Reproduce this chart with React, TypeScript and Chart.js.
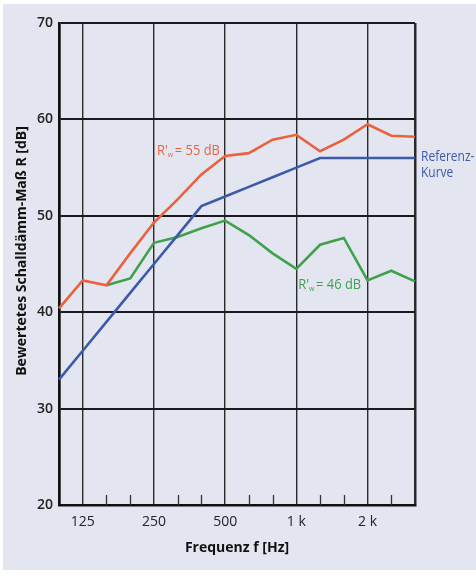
import React, { useEffect, useRef } from 'react';
import { Chart, registerables } from 'chart.js';

Chart.register(...registerables);

// Third-octave band centre frequencies (Hz)
const frequencies = ['100', '125', '160', '200', '250', '315', '400', '500', '630', '800', '1000', '1250', '1600', '2000', '2500', '3150'];
// Labelled octave bands (index -> label)
const majorTickIndices = [1, 4, 7, 10, 13];
const majorTickLabels = ['125', '250', '500', '1 k', '2 k'];
// Unlabelled third-octave bands with short tick marks
const minorTickIndices = [2, 3, 5, 6, 8, 9, 11, 12, 14];

// Measured curve, R'w = 55 dB
const curve55 = [40.4, 43.3, 42.8, 46.1, 49.3, 51.7, 54.3, 56.2, 56.5, 57.9, 58.4, 56.7, 57.9, 59.5, 58.3, 58.2];
// Measured curve, R'w = 46 dB
const curve46 = [null, null, 42.8, 43.5, 47.2, 47.8, 48.7, 49.5, 48.0, 46.1, 44.5, 47.0, 47.7, 43.3, 44.3, 43.2];
// Reference curve (ISO 717-1)
const referenceCurve = [33, 36, 39, 42, 45, 48, 51, 52, 53, 54, 55, 56, 56, 56, 56, 56];

const yTicks = [20, 30, 40, 50, 60, 70];

const yTitle = 'Bewertetes Schalldämm-Maß R [dB]';
const xTitle = 'Frequenz f [Hz]';

const ORANGE = '#e9623c';
const GREEN = '#3fa14c';
const BLUE = '#3c5aa8';
const BG = '#e3e6f0';
const FONT = '"Open Sans", "DejaVu Sans", sans-serif';

const decorPlugin = {
  id: 'decor',
  beforeDraw(chart: any) {
    const { ctx, width, height } = chart;
    ctx.save();
    ctx.fillStyle = '#ffffff';
    ctx.fillRect(0, 0, width, height);
    ctx.fillStyle = BG;
    ctx.fillRect(3, 4, width - 3, height - 10);
    ctx.restore();
  },
  beforeDatasetsDraw(chart: any) {
    const { ctx, scales, chartArea } = chart;
    const x = scales.x;
    ctx.save();
    ctx.strokeStyle = '#333';
    ctx.lineWidth = 1.3;
    for (const i of minorTickIndices) {
      const px = Math.round(x.getPixelForValue(i)) + 0.5;
      ctx.beginPath();
      ctx.moveTo(px, chartArea.bottom);
      ctx.lineTo(px, chartArea.bottom - 10);
      ctx.stroke();
    }
    ctx.restore();
  },
  afterDatasetsDraw(chart: any) {
    const { ctx, scales, chartArea } = chart;
    const x = scales.x;
    const y = scales.y;
    const SX = 0.86;
    const drawRw = (value: string, color: string, xi: number, yv: number) => {
      const px0 = x.getPixelForValue(xi);
      const py = y.getPixelForValue(yv);
      ctx.save();
      ctx.translate(px0, py);
      ctx.scale(SX, 1);
      let px = 0;
      ctx.fillStyle = color;
      ctx.textBaseline = 'middle';
      ctx.textAlign = 'left';
      ctx.font = `15px ${FONT}`;
      ctx.fillText("R'", px, 0);
      px += ctx.measureText("R'").width;
      ctx.font = `8px ${FONT}`;
      ctx.fillText('w', px, 4);
      px += ctx.measureText('w').width + 2;
      ctx.font = `15px ${FONT}`;
      ctx.fillText('= ' + value + ' dB', px, 0);
      ctx.restore();
    };
    drawRw('55', ORANGE, 4.13, 56.7);
    drawRw('46', GREEN, 10.08, 42.9);

    ctx.save();
    ctx.fillStyle = BLUE;
    ctx.font = `15px ${FONT}`;
    ctx.textAlign = 'left';
    ctx.textBaseline = 'middle';
    ctx.translate(x.right + 6, 0);
    ctx.scale(0.8, 1);
    ctx.fillText('Referenz-', 0, y.getPixelForValue(56.2) + 1);
    ctx.fillText('Kurve', 0, y.getPixelForValue(54.6) + 1);
    ctx.restore();

    // y axis title
    ctx.save();
    ctx.fillStyle = '#111';
    ctx.font = `bold 14px ${FONT}`;
    ctx.textAlign = 'center';
    ctx.textBaseline = 'middle';
    ctx.translate(22, (chartArea.top + chartArea.bottom) / 2 - 13);
    ctx.rotate(-Math.PI / 2);
    ctx.fillText(yTitle, 0, 0);
    ctx.restore();
  },
};

export default function App() {
  const canvasRef = useRef<HTMLCanvasElement | null>(null);

  useEffect(() => {
    if (!canvasRef.current) return;
    const chart = new Chart(canvasRef.current, {
      type: 'line',
      data: {
        labels: frequencies,
        datasets: [
          { label: "R'w = 55 dB", data: curve55, borderColor: ORANGE, borderWidth: 2.6, pointRadius: 0, tension: 0 },
          { label: 'Referenzkurve', data: referenceCurve, borderColor: BLUE, borderWidth: 2.6, pointRadius: 0, tension: 0 },
          { label: "R'w = 46 dB", data: curve46, borderColor: GREEN, borderWidth: 2.6, pointRadius: 0, tension: 0, spanGaps: false },
        ],
      },
      options: {
        animation: false,
        responsive: false,
        maintainAspectRatio: false,
        layout: { padding: { top: 23, right: 61, left: 0, bottom: 0 } },
        plugins: { legend: { display: false }, tooltip: { enabled: false } },
        scales: {
          x: {
            type: 'category',
            offset: false,
            afterFit: (s: any) => { s.height = 71; },
            grid: {
              drawTicks: false,
              color: (c: any) => (c.index === 0 || c.index === 15 || majorTickIndices.includes(c.index)) ? '#2a2a2a' : 'rgba(0,0,0,0)',
              lineWidth: (c: any) => (c.index === 0 || c.index === 15) ? 2.5 : 1.4,
            },
            border: { display: true, color: '#111', width: 2.5 },
            ticks: {
              autoSkip: false,
              maxRotation: 0,
              padding: 9,
              color: '#222',
              font: { family: FONT, size: 14 },
              callback: (_v: any, i: number) => {
                const k = majorTickIndices.indexOf(i);
                return k >= 0 ? majorTickLabels[k] : '';
              },
            },
            title: {
              display: true,
              text: xTitle,
              color: '#111',
              font: { family: FONT, size: 14, weight: 'bold' },
              padding: { top: 0, bottom: 20 },
            },
          },
          y: {
            type: 'linear',
            min: 20,
            max: 70,
            afterFit: (s: any) => { s.width = 59; },
            afterBuildTicks: (s: any) => { s.ticks = yTicks.map((v) => ({ value: v })); },
            grid: { drawTicks: false, color: '#1a1a1a', lineWidth: 2 },
            border: { display: true, color: '#111', width: 2.5 },
            ticks: {
              padding: 6,
              color: '#222',
              font: { family: FONT, size: 14, weight: '600' },
            },
            title: { display: false },
          },
        },
      },
      plugins: [decorPlugin],
    });
    return () => chart.destroy();
  }, []);

  return (
    <div style={{ position: 'absolute', left: 0, top: 0, width: 476, height: 576 }}>
      <canvas ref={canvasRef} width={476} height={576} style={{ display: 'block' }} />
    </div>
  );
}
